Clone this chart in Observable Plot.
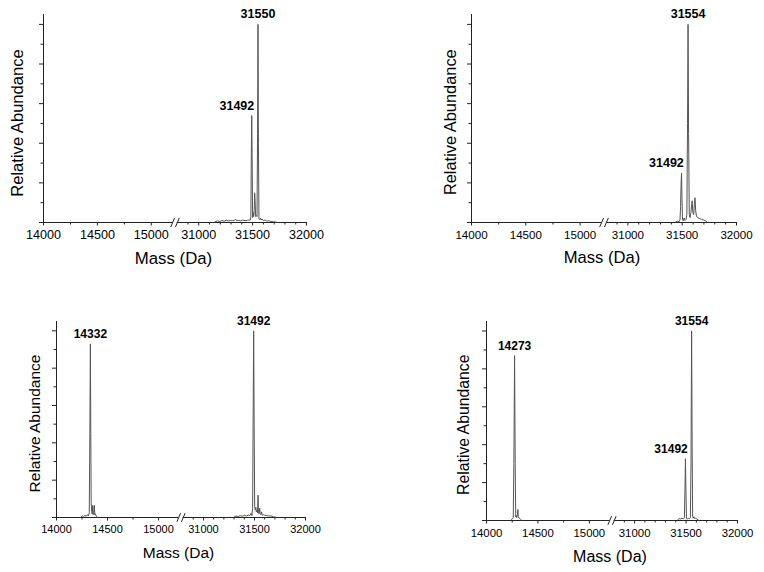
<!DOCTYPE html>
<html><head><meta charset="utf-8">
<script src="https://cdn.jsdelivr.net/npm/d3@7"></script>
<script src="https://cdn.jsdelivr.net/npm/@observablehq/plot@0.6"></script>
<style>
body{margin:0;background:#fff;}
#wrap{position:relative;width:764px;height:572px;overflow:hidden;background:#fff;}
.panel{position:absolute;}
</style></head><body><div id="wrap"></div>
<script>
// ---------- data ----------
const tickLabels = [14000, 14500, 15000, 31000, 31500, 32000];
const minorTicks = [14250, 14750, 30900, 31100, 31200, 31300, 31400, 31600, 31700, 31800, 31900];
const yMajorTicks = [0, 20, 40, 60, 80, 100];
const yMinorTicks = [10, 30, 50, 70, 90];

// spectrum traces: [mass (Da), relative abundance]
const spectrumA = [[31150,0.3],[31175,0.8],[31195,0.5],[31215,1.0],[31235,0.6],[31255,1.2],[31275,0.8],[31295,1.0],[31315,0.9],[31330,1.0],[31340,1.7],[31352,0.9],[31370,1.1],[31390,0.8],[31410,1.2],[31430,0.9],[31450,1.1],[31465,1.3],[31478,1.2],[31484,3],[31488,35],[31492,54],[31496,30],[31500,2.5],[31505,5],[31510,3],[31515,6],[31519,15],[31523,11],[31528,3],[31535,3.5],[31541,3],[31546,45],[31550,100],[31554,40],[31559,2],[31565,1.5],[31571,2.2],[31578,1.3],[31588,1.8],[31600,1.0],[31615,1.3],[31630,0.7],[31650,0.9],[31670,0.5],[31695,0.4],[31720,0.2]];
const spectrumB = [[31440,0.3],[31458,0.6],[31472,0.5],[31480,1.5],[31485,8],[31490,20],[31494,25],[31498,12],[31503,1.5],[31510,0.8],[31518,2.3],[31526,1.0],[31535,1.5],[31543,4],[31549,50],[31554,100],[31559,45],[31565,4],[31572,2.5],[31580,5],[31587,9],[31592,11],[31598,5],[31606,4],[31612,9],[31618,12.5],[31624,6],[31632,3],[31645,2.5],[31660,2],[31680,1.5],[31700,1.2],[31715,0.8],[31728,0.2]];
const spectrumC = [[14240,0.3],[14255,0.8],[14265,0.4],[14278,1.2],[14290,0.6],[14302,1.5],[14312,0.8],[14321,2.5],[14327,45],[14332,93],[14336,45],[14340,8],[14345,3],[14350,2],[14355,6.5],[14359,1.5],[14365,2],[14371,6.5],[14375,1.5],[14381,2],[14388,0.8],[14398,0.3],
  [31300,0.3],[31320,0.8],[31340,0.5],[31360,1.0],[31380,0.7],[31400,1.2],[31420,0.8],[31440,1.3],[31455,1.0],[31468,2.3],[31475,1.0],[31482,5],[31487,55],[31492,100],[31497,50],[31502,6],[31508,4],[31513,5.5],[31518,3],[31524,4],[31530,2.5],[31535,12],[31539,3],[31545,2],[31551,5],[31556,2],[31563,1.5],[31570,3],[31576,1.2],[31586,1.5],[31600,1.2],[31620,1.0],[31640,0.8],[31660,0.9],[31685,0.4],[31710,0.2]];
const spectrumD = [[14240,0.3],[14252,0.8],[14260,1.5],[14266,30],[14273,87],[14279,30],[14284,2],[14289,2.6],[14294,1.5],[14300,3],[14305,5.8],[14310,2],[14318,1.2],[14328,0.8],[14340,0.2],
  [31420,0.5],[31432,1.0],[31445,0.8],[31460,1.2],[31474,0.9],[31484,1.5],[31489,15],[31494,32.6],[31499,15],[31504,1],[31512,0.8],[31522,1.2],[31532,0.9],[31542,1.5],[31548,30],[31554,100],[31559,40],[31564,2],[31570,1.2],[31576,2],[31584,1],[31594,1.2],[31605,0.8],[31618,0.3]];

// labelled peaks: [mass, abundance, label]
const peaksA = [[31492, 54, "31492"], [31550, 100, "31550"]];
const peaksB = [[31492, 25, "31492"], [31554, 100, "31554"]];
const peaksC = [[14332, 93, "14332"], [31492, 100, "31492"]];
const peaksD = [[14273, 87, "14273"], [31492, 32.6, "31492"], [31554, 100, "31554"]];
// which labels sit to the left of their peak
const leftLabelsA = ["31492"];
const leftLabelsB = ["31492"];
const leftLabelsC = [];
const leftLabelsD = ["31492"];

const xTitle = "Mass (Da)";
const yTitle = "Relative Abundance";

// ---------- broken axis mapping ----------
const GAP = 440;
const lowStart = tickLabels[0], lowEnd = tickLabels[2], highStart = tickLabels[3];
function toAxis(m) {
  return m < 20000 ? m - lowStart : m - highStart + (lowEnd - lowStart) + GAP;
}
const xMax = toAxis(tickLabels[tickLabels.length - 1]);
const brk = (toAxis(lowEnd) + toAxis(highStart)) / 2;

const FONT = "'Liberation Sans', Arial, Helvetica, sans-serif";
const AXIS = "#222";
const LINE = "#555";

function panel(cfg) {
  const trace = cfg.spectrum.map(([m, a]) => ({mass: m, abund: a, seg: m < 20000 ? 0 : 1}));
  const peaks = cfg.peaks.map(([m, a, t]) => ({mass: m, abund: a, text: t, left: cfg.leftLabels.includes(t)}));
  const labelMap = new Map(tickLabels.map(t => [toAxis(t), String(t)]));
  const chart = Plot.plot({
    width: cfg.width, height: cfg.height,
    marginLeft: cfg.ml, marginRight: cfg.mr, marginTop: cfg.mt, marginBottom: cfg.mb,
    x: {domain: [0, xMax]},
    y: {domain: [0, 105]},
    style: {fontFamily: FONT, color: "#000", background: "transparent", overflow: "visible"},
    marks: [
      Plot.axisY(yMajorTicks, {tickSize: 4, tickFormat: () => "", label: null, stroke: AXIS}),
      Plot.axisY(yMinorTicks, {tickSize: 2.5, tickFormat: () => "", label: null, stroke: AXIS}),
      Plot.axisX(tickLabels.map(toAxis), {tickSize: 3.5, tickPadding: cfg.tickPad, tickFormat: d => labelMap.get(d), fontSize: cfg.tickFont, label: null, stroke: AXIS}),
      Plot.axisX(minorTicks.map(toAxis), {tickSize: 2.5, tickFormat: () => "", label: null, stroke: AXIS}),
      Plot.ruleX([0], {stroke: AXIS, strokeWidth: 1}),
      Plot.ruleY([{x1: 0, x2: brk - 22}, {x1: brk + 22, x2: xMax}], {x1: "x1", x2: "x2", y: () => 0, stroke: AXIS, strokeWidth: 1}),
      Plot.link([{x1: brk - 40, x2: brk - 4}, {x1: brk + 4, x2: brk + 40}], {x1: "x1", x2: "x2", y1: () => -2.3, y2: () => 2.3, stroke: AXIS, strokeWidth: 1}),
      Plot.line(trace, {x: d => toAxis(d.mass), y: "abund", z: "seg", stroke: LINE, strokeWidth: 1, curve: "linear"}),
      Plot.text(peaks.filter(d => !d.left), {x: d => toAxis(d.mass), y: "abund", text: "text", dy: -6, lineAnchor: "bottom", textAnchor: "middle", fontWeight: "bold", fontSize: cfg.peakFont, fill: "#000"}),
      Plot.text(peaks.filter(d => d.left), {x: d => toAxis(d.mass), y: "abund", text: "text", dx: 2.5, dy: -6, lineAnchor: "bottom", textAnchor: "end", fontWeight: "bold", fontSize: cfg.peakFont, fill: "#000"}),
      Plot.text([xTitle], {text: d => d, frameAnchor: "bottom", textAnchor: "middle", lineAnchor: "top", dx: cfg.xtDx, dy: cfg.xtDy, fontSize: cfg.titleFont, fill: "#000"}),
      Plot.text([yTitle], {text: d => d, frameAnchor: "left", textAnchor: "middle", lineAnchor: "middle", rotate: -90, dx: cfg.ytDx, dy: cfg.ytDy, fontSize: cfg.yTitleFont, fill: "#000"})
    ]
  });
  chart.classList.add("panel");
  chart.style.left = cfg.left + "px";
  chart.style.top = cfg.top + "px";
  document.getElementById("wrap").appendChild(chart);
}

panel({spectrum: spectrumA, peaks: peaksA, leftLabels: leftLabelsA, left: 0, top: 0, width: 382, height: 286,
  ml: 43, mr: 76, mt: 14, mb: 64, tickPad: 4.5, tickFont: 12.6, peakFont: 12.5, titleFont: 16.8, yTitleFont: 16.6,
  xtDx: -1.5, xtDy: 29.5, ytDx: -25.6, ytDy: 4.5});
panel({spectrum: spectrumB, peaks: peaksB, leftLabels: leftLabelsB, left: 382, top: 0, width: 382, height: 286,
  ml: 89, mr: 28, mt: 14, mb: 64, tickPad: 4.5, tickFont: 11.6, peakFont: 12.5, titleFont: 16.6, yTitleFont: 16.4,
  xtDx: -2, xtDy: 29, ytDx: -21.2, ytDy: 3.7});
panel({spectrum: spectrumC, peaks: peaksC, leftLabels: leftLabelsC, left: 0, top: 286, width: 382, height: 286,
  ml: 56, mr: 77, mt: 35, mb: 55, tickPad: 4.5, tickFont: 11, peakFont: 12, titleFont: 15.5, yTitleFont: 15.5,
  xtDx: -2.5, xtDy: 29.5, ytDx: -21.7, ytDy: 4});
panel({spectrum: spectrumD, peaks: peaksD, leftLabels: leftLabelsD, left: 382, top: 286, width: 382, height: 286,
  ml: 104, mr: 27, mt: 35, mb: 52, tickPad: 4.8, tickFont: 11.4, peakFont: 12, titleFont: 16, yTitleFont: 15.8,
  xtDx: -2, xtDy: 30, ytDx: -22.8, ytDy: 3.7});
</script>
</body></html>
